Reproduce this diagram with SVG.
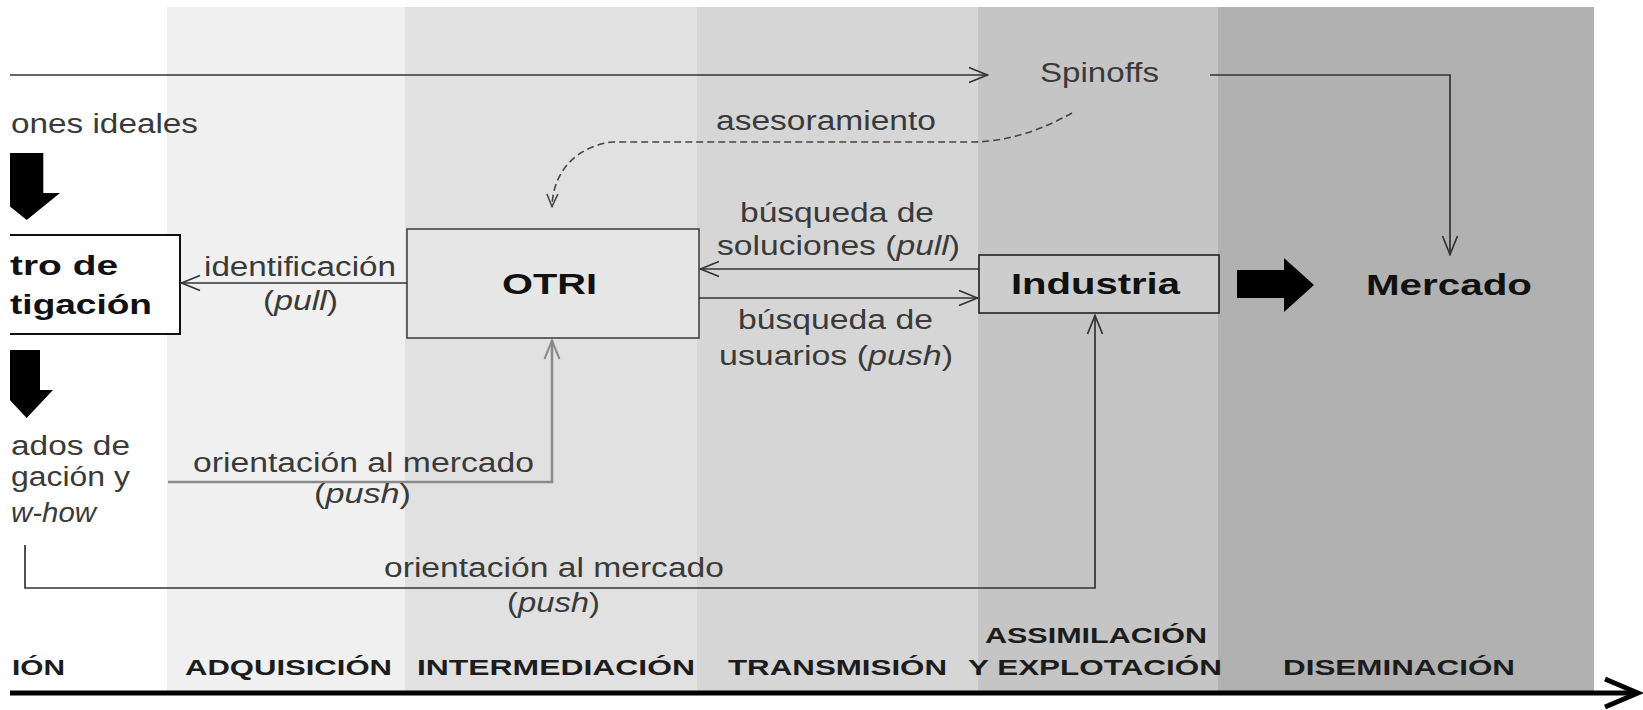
<svg xmlns="http://www.w3.org/2000/svg" width="1643" height="710" viewBox="0 0 1643 710">
<style>
text{font-family:"Liberation Sans",Arial,Helvetica,sans-serif}
.lbl{font-size:27px;fill:#3a3a3a}
.nb{font-size:30px;font-weight:bold;fill:#111}
.cb{font-size:28px;font-weight:bold;fill:#111}
.ph{font-size:22px;font-weight:bold;fill:#1c1c1c}
.it{font-style:italic}
.ln{fill:none;stroke:#333;stroke-width:1.7}
.lg{fill:none;stroke:#8a8a8a;stroke-width:2.6}
.blk{fill:#000;stroke:none}
</style>
<defs>
<marker id="ah" viewBox="0 0 22 18" refX="21" refY="9" markerWidth="22" markerHeight="18" markerUnits="userSpaceOnUse" orient="auto">
<path d="M2,1.5 L20.5,9 L2,16.5" fill="none" stroke="#333" stroke-width="1.7"/>
</marker>
<marker id="ahg" viewBox="0 0 22 18" refX="21" refY="9" markerWidth="22" markerHeight="18" markerUnits="userSpaceOnUse" orient="auto">
<path d="M2,1.5 L20.5,9 L2,16.5" fill="none" stroke="#8a8a8a" stroke-width="2"/>
</marker>
<marker id="ahd" viewBox="0 0 16 14" refX="15" refY="7" markerWidth="16" markerHeight="14" markerUnits="userSpaceOnUse" orient="auto">
<path d="M2,1.5 L14.5,7 L2,12.5" fill="none" stroke="#444" stroke-width="1.5"/>
</marker>
<clipPath id="clip"><rect x="10" y="0" width="1633" height="710"/></clipPath>
</defs>
<rect x="0" y="0" width="1643" height="710" fill="#ffffff"/>
<g id="bands">
<rect x="167" y="7" width="238" height="684" fill="#f0f0f0"/>
<rect x="405" y="7" width="292" height="684" fill="#e1e1e1"/>
<rect x="697" y="7" width="281" height="684" fill="#d6d6d6"/>
<rect x="978" y="7" width="240" height="684" fill="#c5c5c5"/>
<rect x="1218" y="7" width="376" height="684" fill="#b1b1b1"/>
</g>
<g clip-path="url(#clip)">
<g id="node-centro">
<path d="M0,235 H180 V334 H0" fill="#ffffff" stroke="#111" stroke-width="2"/>
<text class="cb" x="10" y="275" textLength="108" lengthAdjust="spacingAndGlyphs">tro de</text>
<text class="cb" x="10" y="314" textLength="142" lengthAdjust="spacingAndGlyphs">tigación</text>
</g>
<g id="node-otri">
<rect x="407" y="229" width="292" height="109" fill="#e7e7e7" stroke="#444" stroke-width="1.6"/>
<text class="nb" x="502" y="294" textLength="95" lengthAdjust="spacingAndGlyphs">OTRI</text>
</g>
<g id="node-industria">
<rect x="979" y="255" width="240" height="58" fill="#cdcdcd" stroke="#222" stroke-width="1.6"/>
<text class="nb" x="1011" y="294" textLength="169" lengthAdjust="spacingAndGlyphs">Industria</text>
</g>
<g id="node-mercado">
<text class="nb" x="1366" y="295" textLength="166" lengthAdjust="spacingAndGlyphs">Mercado</text>
</g>
<g id="node-spinoffs">
<text class="lbl" x="1040" y="82" textLength="119" lengthAdjust="spacingAndGlyphs">Spinoffs</text>
</g>
<g id="node-condiciones">
<text class="lbl" x="11" y="133" textLength="187" lengthAdjust="spacingAndGlyphs">ones ideales</text>
</g>
<g id="node-resultados">
<text class="lbl" x="11" y="455" textLength="119" lengthAdjust="spacingAndGlyphs">ados de</text>
<text class="lbl" x="11" y="486" textLength="119" lengthAdjust="spacingAndGlyphs">gación y</text>
<text class="lbl it" x="11" y="522" textLength="85" lengthAdjust="spacingAndGlyphs">w-how</text>
</g>
<g id="connectors">
<path class="blk" d="M10,153 H43.3 V193 H60 L26.7,220 L10,206.5 Z"/>
<path class="blk" d="M10,350 H40 V390 H53 L26.7,418 L10,400.2 Z"/>
<path class="blk" d="M1237,270 H1284 V258 L1314,285 L1284,312 V298 H1237 Z"/>
<line class="ln" x1="10" y1="75" x2="988" y2="75" marker-end="url(#ah)"/>
<polyline class="ln" points="1210,75 1450,75 1450,255" stroke="#555" marker-end="url(#ah)"/>
<path d="M1072,113 C1045,128 1012,141 975,142 L612,142 C580,146 553,168 552,207" fill="none" stroke="#444" stroke-width="1.6" stroke-dasharray="7 4" marker-end="url(#ahd)"/>
<line class="ln" x1="407" y1="283" x2="181" y2="283" marker-end="url(#ah)"/>
<line class="ln" x1="979" y1="269" x2="700" y2="269" stroke="#222" marker-end="url(#ah)"/>
<line class="ln" x1="699" y1="298" x2="978" y2="298" stroke="#222" marker-end="url(#ah)"/>
<polyline class="lg" points="168,482 552,482 552,340" marker-end="url(#ahg)"/>
<polyline class="ln" points="25,545 25,588 1095,588 1095,315" marker-end="url(#ah)"/>
<line x1="10" y1="693" x2="1636" y2="693" stroke="#000" stroke-width="5"/>
<polyline points="1605,679 1638,693 1605,707" fill="none" stroke="#000" stroke-width="5"/>
</g>
<g id="labels">
<text class="lbl" x="716" y="130" textLength="220" lengthAdjust="spacingAndGlyphs">asesoramiento</text>
<text class="lbl" x="204" y="276" textLength="192" lengthAdjust="spacingAndGlyphs">identificación</text>
<text class="lbl" x="263" y="310" textLength="75" lengthAdjust="spacingAndGlyphs">(<tspan class="it">pull</tspan>)</text>
<text class="lbl" x="740" y="222" textLength="194" lengthAdjust="spacingAndGlyphs">búsqueda de</text>
<text class="lbl" x="717" y="255" textLength="243" lengthAdjust="spacingAndGlyphs">soluciones (<tspan class="it">pull</tspan>)</text>
<text class="lbl" x="738" y="329" textLength="195" lengthAdjust="spacingAndGlyphs">búsqueda de</text>
<text class="lbl" x="719" y="365" textLength="234" lengthAdjust="spacingAndGlyphs">usuarios (<tspan class="it">push</tspan>)</text>
<text class="lbl" x="193" y="472" textLength="341" lengthAdjust="spacingAndGlyphs">orientación al mercado</text>
<text class="lbl" x="314" y="503" textLength="97" lengthAdjust="spacingAndGlyphs">(<tspan class="it">push</tspan>)</text>
<text class="lbl" x="384" y="577" textLength="340" lengthAdjust="spacingAndGlyphs">orientación al mercado</text>
<text class="lbl" x="507" y="612" textLength="93" lengthAdjust="spacingAndGlyphs">(<tspan class="it">push</tspan>)</text>
<text class="ph" x="12" y="675" textLength="53" lengthAdjust="spacingAndGlyphs">IÓN</text>
<text class="ph" x="185" y="675" textLength="207" lengthAdjust="spacingAndGlyphs">ADQUISICIÓN</text>
<text class="ph" x="417" y="675" textLength="278" lengthAdjust="spacingAndGlyphs">INTERMEDIACIÓN</text>
<text class="ph" x="728" y="675" textLength="219" lengthAdjust="spacingAndGlyphs">TRANSMISIÓN</text>
<text class="ph" x="985" y="643" textLength="222" lengthAdjust="spacingAndGlyphs">ASSIMILACIÓN</text>
<text class="ph" x="968" y="675" textLength="254" lengthAdjust="spacingAndGlyphs">Y EXPLOTACIÓN</text>
<text class="ph" x="1283" y="675" textLength="232" lengthAdjust="spacingAndGlyphs">DISEMINACIÓN</text>
</g>
</g>
</svg>
